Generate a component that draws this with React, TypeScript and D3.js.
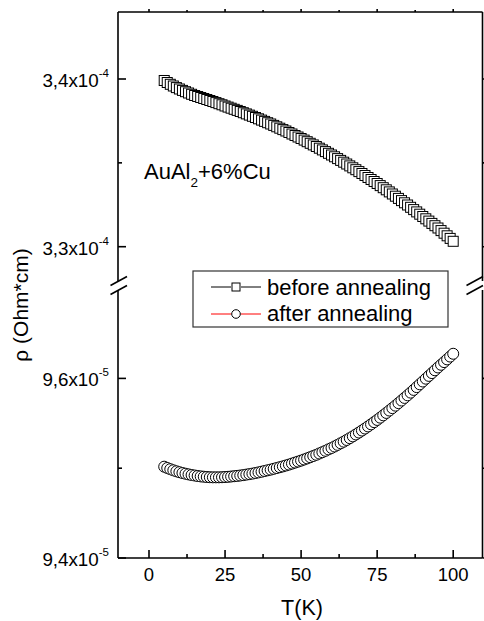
import React from 'react';
import * as d3 from 'd3';

// ---------- data ----------
const temperature = [
  5, 6, 7, 8, 9, 10, 11, 12, 13, 14, 15, 16, 17, 18, 19, 20, 21, 22, 23, 24,
  25, 26, 27, 28, 29, 30, 31, 32, 33, 34, 35, 36, 37, 38, 39, 40, 41, 42, 43, 44,
  45, 46, 47, 48, 49, 50, 51, 52, 53, 54, 55, 56, 57, 58, 59, 60, 61, 62, 63, 64,
  65, 66, 67, 68, 69, 70, 71, 72, 73, 74, 75, 76, 77, 78, 79, 80, 81, 82, 83, 84,
  85, 86, 87, 88, 89, 90, 91, 92, 93, 94, 95, 96, 97, 98, 99, 100,
];

// before annealing (Ohm*cm)
const rhoBefore = [
  3.39911e-4, 3.39791e-4, 3.39684e-4, 3.39583e-4, 3.39487e-4, 3.39404e-4, 3.3932e-4, 3.39243e-4, 3.39165e-4, 3.39088e-4,
  3.39016e-4, 3.38957e-4, 3.38897e-4, 3.38837e-4, 3.38778e-4, 3.38718e-4, 3.38658e-4, 3.38593e-4, 3.38527e-4, 3.38462e-4,
  3.3839e-4, 3.38324e-4, 3.38259e-4, 3.38193e-4, 3.38128e-4, 3.38062e-4, 3.3799e-4, 3.37919e-4, 3.37847e-4, 3.37776e-4,
  3.37704e-4, 3.37627e-4, 3.37549e-4, 3.37472e-4, 3.37394e-4, 3.37317e-4, 3.37233e-4, 3.3715e-4, 3.37066e-4, 3.36983e-4,
  3.36899e-4, 3.3681e-4, 3.3672e-4, 3.36631e-4, 3.36541e-4, 3.36452e-4, 3.36357e-4, 3.36261e-4, 3.36166e-4, 3.3607e-4,
  3.35975e-4, 3.35874e-4, 3.35772e-4, 3.35671e-4, 3.35569e-4, 3.35468e-4, 3.35361e-4, 3.35253e-4, 3.35146e-4, 3.35039e-4,
  3.34931e-4, 3.34818e-4, 3.34705e-4, 3.34592e-4, 3.34478e-4, 3.34365e-4, 3.34246e-4, 3.34126e-4, 3.34007e-4, 3.33888e-4,
  3.33769e-4, 3.33643e-4, 3.33518e-4, 3.33393e-4, 3.33268e-4, 3.33143e-4, 3.33011e-4, 3.3288e-4, 3.32749e-4, 3.32618e-4,
  3.32487e-4, 3.32349e-4, 3.32212e-4, 3.32075e-4, 3.31938e-4, 3.31801e-4, 3.31664e-4, 3.31527e-4, 3.31389e-4, 3.31252e-4,
  3.31115e-4, 3.3096e-4, 3.30805e-4, 3.3065e-4, 3.30495e-4, 3.30322e-4,
];

// after annealing (Ohm*cm)
const rhoAfter = [
  9.50167e-5, 9.50022e-5, 9.49888e-5, 9.49766e-5, 9.49654e-5, 9.49554e-5, 9.49465e-5, 9.49387e-5, 9.49309e-5, 9.49242e-5,
  9.49186e-5, 9.4913e-5, 9.49086e-5, 9.49052e-5, 9.49019e-5, 9.48997e-5, 9.48985e-5, 9.48985e-5, 9.48985e-5, 9.48997e-5,
  9.49019e-5, 9.49041e-5, 9.49075e-5, 9.49108e-5, 9.49142e-5, 9.49186e-5, 9.49231e-5, 9.49287e-5, 9.49342e-5, 9.49398e-5,
  9.49465e-5, 9.49532e-5, 9.4961e-5, 9.49688e-5, 9.49766e-5, 9.49844e-5, 9.49933e-5, 9.50022e-5, 9.50111e-5, 9.50201e-5,
  9.50301e-5, 9.50401e-5, 9.50513e-5, 9.50624e-5, 9.50736e-5, 9.50847e-5, 9.5097e-5, 9.51093e-5, 9.51226e-5, 9.5136e-5,
  9.51494e-5, 9.51639e-5, 9.51784e-5, 9.5194e-5, 9.52096e-5, 9.52252e-5, 9.52419e-5, 9.52598e-5, 9.52776e-5, 9.52954e-5,
  9.53144e-5, 9.53345e-5, 9.53545e-5, 9.53757e-5, 9.53969e-5, 9.54192e-5, 9.54415e-5, 9.54649e-5, 9.54883e-5, 9.55128e-5,
  9.55374e-5, 9.5563e-5, 9.55886e-5, 9.56154e-5, 9.56421e-5, 9.56689e-5, 9.56968e-5, 9.57246e-5, 9.57536e-5, 9.57826e-5,
  9.58116e-5, 9.58417e-5, 9.58718e-5, 9.5903e-5, 9.59342e-5, 9.59654e-5, 9.59967e-5, 9.60279e-5, 9.60591e-5, 9.60903e-5,
  9.61215e-5, 9.61516e-5, 9.61817e-5, 9.62118e-5, 9.6243e-5, 9.62742e-5,
];

const xMajorTicks = [0, 25, 50, 75, 100];
const xMinorTicks = [12.5, 37.5, 62.5, 87.5];
const xTickLabels = ['0', '25', '50', '75', '100'];

const upperMajorTicks = [3.3e-4, 3.4e-4];
const upperMinorTicks = [3.35e-4];
const upperTickLabels = ['3,3x10', '3,4x10'];
const upperTickExp = ['-4', '-4'];

const lowerMajorTicks = [9.4e-5, 9.6e-5];
const lowerMinorTicks = [9.5e-5];
const lowerTickLabels = ['9,4x10', '9,6x10'];
const lowerTickExp = ['-5', '-5'];

const seriesNames = ['before annealing', 'after annealing'];

// ---------- layout ----------
const W = 484;
const H = 621;
const L = 118;
const R = 482.5;
const T = 12;
const B = 558;
const upperBottom = 281;
const lowerTop = 290;
const FONT = "'Liberation Sans', Arial, Helvetica, sans-serif";

export default function App() {
  const x = d3.scaleLinear().domain([0, 100]).range([149, 453.2]);
  const yU = d3.scaleLinear().domain([3.3e-4, 3.4e-4]).range([246.7, 79]);
  const yL = d3.scaleLinear().domain([9.4e-5, 9.6e-5]).range([B, 378.4]);

  const lineBefore = d3
    .line<number>()
    .x((_, i) => x(temperature[i]))
    .y((d) => yU(d));
  const lineAfter = d3
    .line<number>()
    .x((_, i) => x(temperature[i]))
    .y((d) => yL(d));

  const sq = 10;
  const cr = 5.5;
  const axisW = 1.6;

  const yTickGroup = (
    scale: d3.ScaleLinear<number, number>,
    majors: number[],
    minors: number[],
    labels: string[],
    exps: string[],
    key: string
  ) => (
    <g key={key}>
      {majors.map((v, i) => (
        <g key={'M' + i}>
          <line x1={L} x2={L + 8} y1={scale(v)} y2={scale(v)} stroke="black" strokeWidth={axisW} />
          <line x1={R} x2={R + 4} y1={scale(v)} y2={scale(v)} stroke="black" strokeWidth={axisW} />
          <text
            x={109}
            y={scale(v) + 8}
            textAnchor="end"
            fontFamily={FONT}
            fontSize={18.8}
            fill="black"
          >
            {labels[i]}
            <tspan fontSize={11.5} dy={-10}>
              {exps[i]}
            </tspan>
          </text>
        </g>
      ))}
      {minors.map((v, i) => (
        <g key={'m' + i}>
          <line x1={L} x2={L + 4} y1={scale(v)} y2={scale(v)} stroke="black" strokeWidth={axisW} />
          <line x1={R} x2={R + 3} y1={scale(v)} y2={scale(v)} stroke="black" strokeWidth={axisW} />
        </g>
      ))}
    </g>
  );

  const breakMarks = (cx: number, key: string) => (
    <g key={key} stroke="black" strokeWidth={1.6}>
      <line x1={cx - 8} y1={upperBottom + 4.5} x2={cx + 8.5} y2={upperBottom - 4.5} />
      <line x1={cx - 8} y1={lowerTop + 4.5} x2={cx + 8.5} y2={lowerTop - 4.5} />
    </g>
  );

  return (
    <svg
      width={W}
      height={H}
      viewBox={`0 0 ${W} ${H}`}
      style={{ position: 'absolute', left: 0, top: 0, background: 'white' }}
    >
      <rect x={0} y={0} width={W} height={H} fill="white" />

      {/* data lines (hidden under markers) */}
      <path d={lineBefore(rhoBefore) || ''} fill="none" stroke="black" strokeWidth={1} />
      <path d={lineAfter(rhoAfter) || ''} fill="none" stroke="red" strokeWidth={1} />

      {/* markers */}
      {rhoBefore.map((v, i) => (
        <rect
          key={'s' + i}
          x={x(temperature[i]) - sq / 2}
          y={yU(v) - sq / 2}
          width={sq}
          height={sq}
          fill="white"
          stroke="black"
          strokeWidth={1}
        />
      ))}
      {rhoAfter.map((v, i) => (
        <circle
          key={'c' + i}
          cx={x(temperature[i])}
          cy={yL(v)}
          r={cr}
          fill="white"
          stroke="black"
          strokeWidth={1}
        />
      ))}

      {/* frame */}
      <g stroke="black" strokeWidth={axisW} fill="none">
        <line x1={L} x2={R} y1={T} y2={T} />
        <line x1={L} x2={R} y1={B} y2={B} />
        <line x1={L} x2={L} y1={T} y2={upperBottom} />
        <line x1={L} x2={L} y1={lowerTop} y2={B} />
        <line x1={R} x2={R} y1={T} y2={upperBottom} />
        <line x1={R} x2={R} y1={lowerTop} y2={B} />
      </g>
      {breakMarks(L + 0.5, 'bl')}
      {breakMarks(R - 8, 'br')}

      {/* x ticks */}
      {xMajorTicks.map((v, i) => (
        <g key={'xt' + i}>
          <line x1={x(v)} x2={x(v)} y1={B} y2={B - 8} stroke="black" strokeWidth={axisW} />
          <line x1={x(v)} x2={x(v)} y1={T} y2={T - 3} stroke="black" strokeWidth={axisW} />
          <text
            x={x(v)}
            y={581}
            textAnchor="middle"
            fontFamily={FONT}
            fontSize={18.5}
            fill="black"
          >
            {xTickLabels[i]}
          </text>
        </g>
      ))}
      {xMinorTicks.map((v, i) => (
        <g key={'xm' + i}>
          <line x1={x(v)} x2={x(v)} y1={B} y2={B - 4} stroke="black" strokeWidth={axisW} />
          <line x1={x(v)} x2={x(v)} y1={T} y2={T - 2} stroke="black" strokeWidth={axisW} />
        </g>
      ))}

      {/* y ticks */}
      {yTickGroup(yU, upperMajorTicks, upperMinorTicks, upperTickLabels, upperTickExp, 'yu')}
      {yTickGroup(yL, lowerMajorTicks, lowerMinorTicks, lowerTickLabels, lowerTickExp, 'yl')}

      {/* axis titles */}
      <text x={302} y={615} textAnchor="middle" fontFamily={FONT} fontSize={21.5} fill="black">
        T(K)
      </text>
      <text
        transform="translate(28,305) rotate(-90)"
        textAnchor="middle"
        fontFamily={FONT}
        fontSize={21}
        fill="black"
      >
        ρ (Ohm*cm)
      </text>

      {/* annotation */}
      <text x={144} y={179} fontFamily={FONT} fontSize={22} fill="black">
        AuAl
        <tspan fontSize={13.5} dy={8}>
          2
        </tspan>
        <tspan dy={-8}>+6%Cu</tspan>
      </text>

      {/* legend */}
      <g>
        <rect x={193} y={271} width={255} height={56} fill="white" stroke="#333" strokeWidth={1.2} />
        <line x1={211} x2={231} y1={287} y2={287} stroke="black" strokeWidth={1} />
        <line x1={241} x2={261} y1={287} y2={287} stroke="black" strokeWidth={1} />
        <rect x={232} y={283} width={8} height={8} fill="white" stroke="black" strokeWidth={1} />
        <text x={267} y={295} fontFamily={FONT} fontSize={22} fill="black">
          {seriesNames[0]}
        </text>
        <line x1={211} x2={231.5} y1={314} y2={314} stroke="red" strokeWidth={1} />
        <line x1={240.5} x2={261} y1={314} y2={314} stroke="red" strokeWidth={1} />
        <circle cx={236} cy={314} r={4.3} fill="white" stroke="black" strokeWidth={1} />
        <text x={267} y={321} fontFamily={FONT} fontSize={22} fill="black">
          {seriesNames[1]}
        </text>
      </g>
    </svg>
  );
}
